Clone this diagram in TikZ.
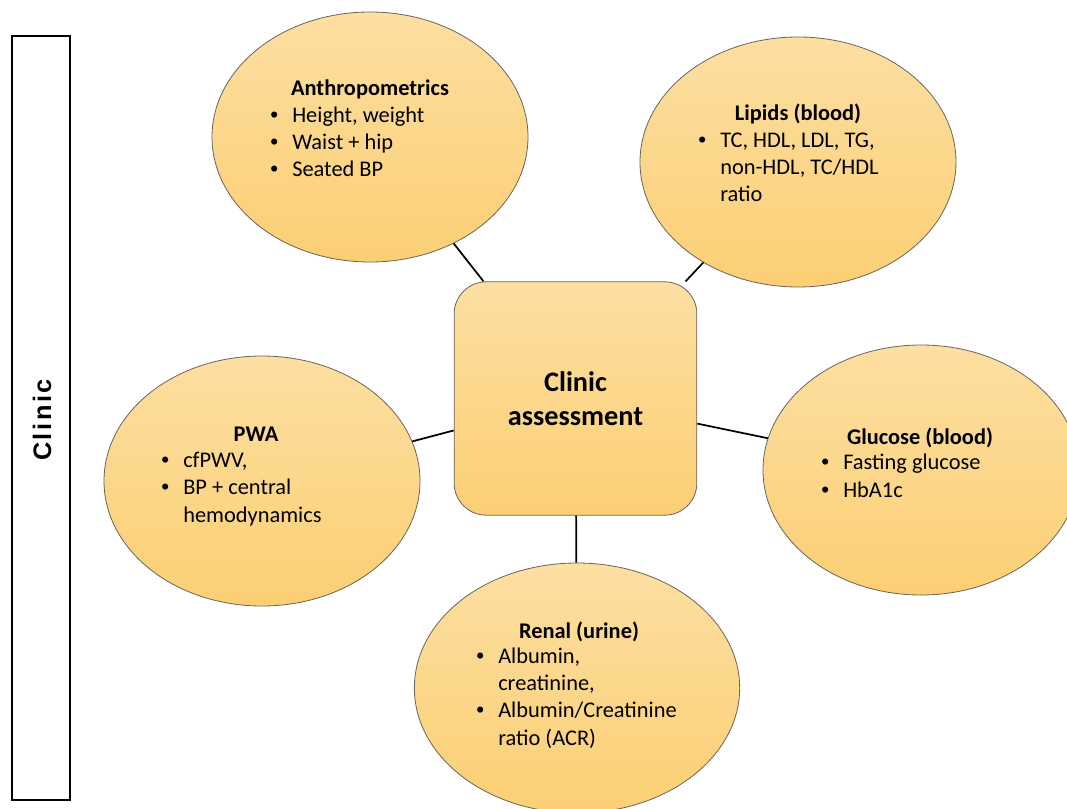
\documentclass[tikz,border=0pt]{standalone}
\usepackage{fontspec}
\setmainfont{Carlito}
\newfontfamily\sidefont[LetterSpace=10]{Liberation Sans}
\newfontfamily\bulfont{Liberation Sans}
\usetikzlibrary{shapes.geometric}

\definecolor{blobtop}{RGB}{253,223,162}
\definecolor{blobbot}{RGB}{251,207,116}
\definecolor{edgegray}{RGB}{105,100,90}

\def \BodyFont {\fontsize{16.8pt}{20.3pt}\selectfont}
\def \BulW {16.5pt}
\newcommand{\itm}[1]{\makebox[\BulW][l]{\bulfont\textbullet}#1}
\newcommand{\cnt}[1]{\hspace*{\BulW}#1}

\tikzstyle{blob}=[
  ellipse,
  draw=edgegray,
  line width=0.6pt,
  top color=blobtop,
  bottom color=blobbot,
  minimum width=237pt,
  minimum height=187.5pt,
  inner sep=0pt
]
\tikzstyle{hubbox}=[
  rectangle,
  rounded corners=24pt,
  draw=edgegray,
  line width=0.6pt,
  top color=blobtop,
  bottom color=blobbot,
  minimum width=182pt,
  minimum height=175pt,
  align=center,
  font=\bfseries\fontsize{21.2pt}{25.5pt}\selectfont
]
\tikzstyle{head}=[anchor=base, inner sep=0pt, font=\bfseries\BodyFont]
% multi-line nodes: base sits on the last line
\tikzstyle{items}=[anchor=base west, align=left, inner sep=0pt, font=\BodyFont]
\tikzstyle{link}=[draw=black, line width=1.3pt]

\begin{document}
\begin{tikzpicture}[x=0.75pt, y=-0.75pt]
  \useasboundingbox[fill=white] (0,0) rectangle (1067,809);

  % side bar
  \node[draw, line width=1.2pt, minimum width=43.5pt, minimum height=573pt, inner sep=0pt] (sidebar) at (41,418) {};
  \node[rotate=90, inner sep=0pt, font=\sidefont\bfseries\fontsize{19pt}{22pt}\selectfont] (sidelabel) at (42,420) {Clinic};

  % bubbles
  \node[blob] (anthro) at (370,137) {};
  \node[blob] (lipids) at (798,162) {};
  \node[blob] (pwa) at (262,481) {};
  \node[blob] (glucose) at (921,470) {};
  \node[blob, minimum width=244pt] (renal) at (577,688) {};

  \node[hubbox] (hub) at (575.5,398.5) {Clinic\\assessment};

  \foreach \n in {anthro,lipids,pwa,glucose,renal}{
    \draw[link] (\n) -- (hub);
  }

  % texts
  \node[head] (anthrohead) at (370,96) {Anthropometrics};
  \node[items] (anthrolist) at (270,177) {\itm{Height, weight}\\\itm{Waist + hip}\\\itm{Seated BP}};

  \node[head] (lipidshead) at (798,121) {Lipids (blood)};
  \node[items] (lipidslist) at (698,202) {\itm{TC, HDL, LDL, TG,}\\\cnt{non-HDL, TC/HDL}\\\cnt{ratio}};

  \node[head] (pwahead) at (256,441) {PWA};
  \node[items] (pwalist) at (161,522) {\itm{cfPWV,}\\\itm{BP + central}\\\cnt{hemodynamics}};

  \node[head] (glucosehead) at (920,444) {Glucose (blood)};
  \node[items] (glucoselist) at (821,497) {\itm{Fasting glucose}\\\itm{HbA1c}};

  \node[head] (renalhead) at (579,638) {Renal (urine)};
  \node[items] (renallist) at (476,745) {\itm{Albumin,}\\\cnt{creatinine,}\\\itm{Albumin/Creatinine}\\\cnt{ratio (ACR)}};
\end{tikzpicture}
\end{document}
